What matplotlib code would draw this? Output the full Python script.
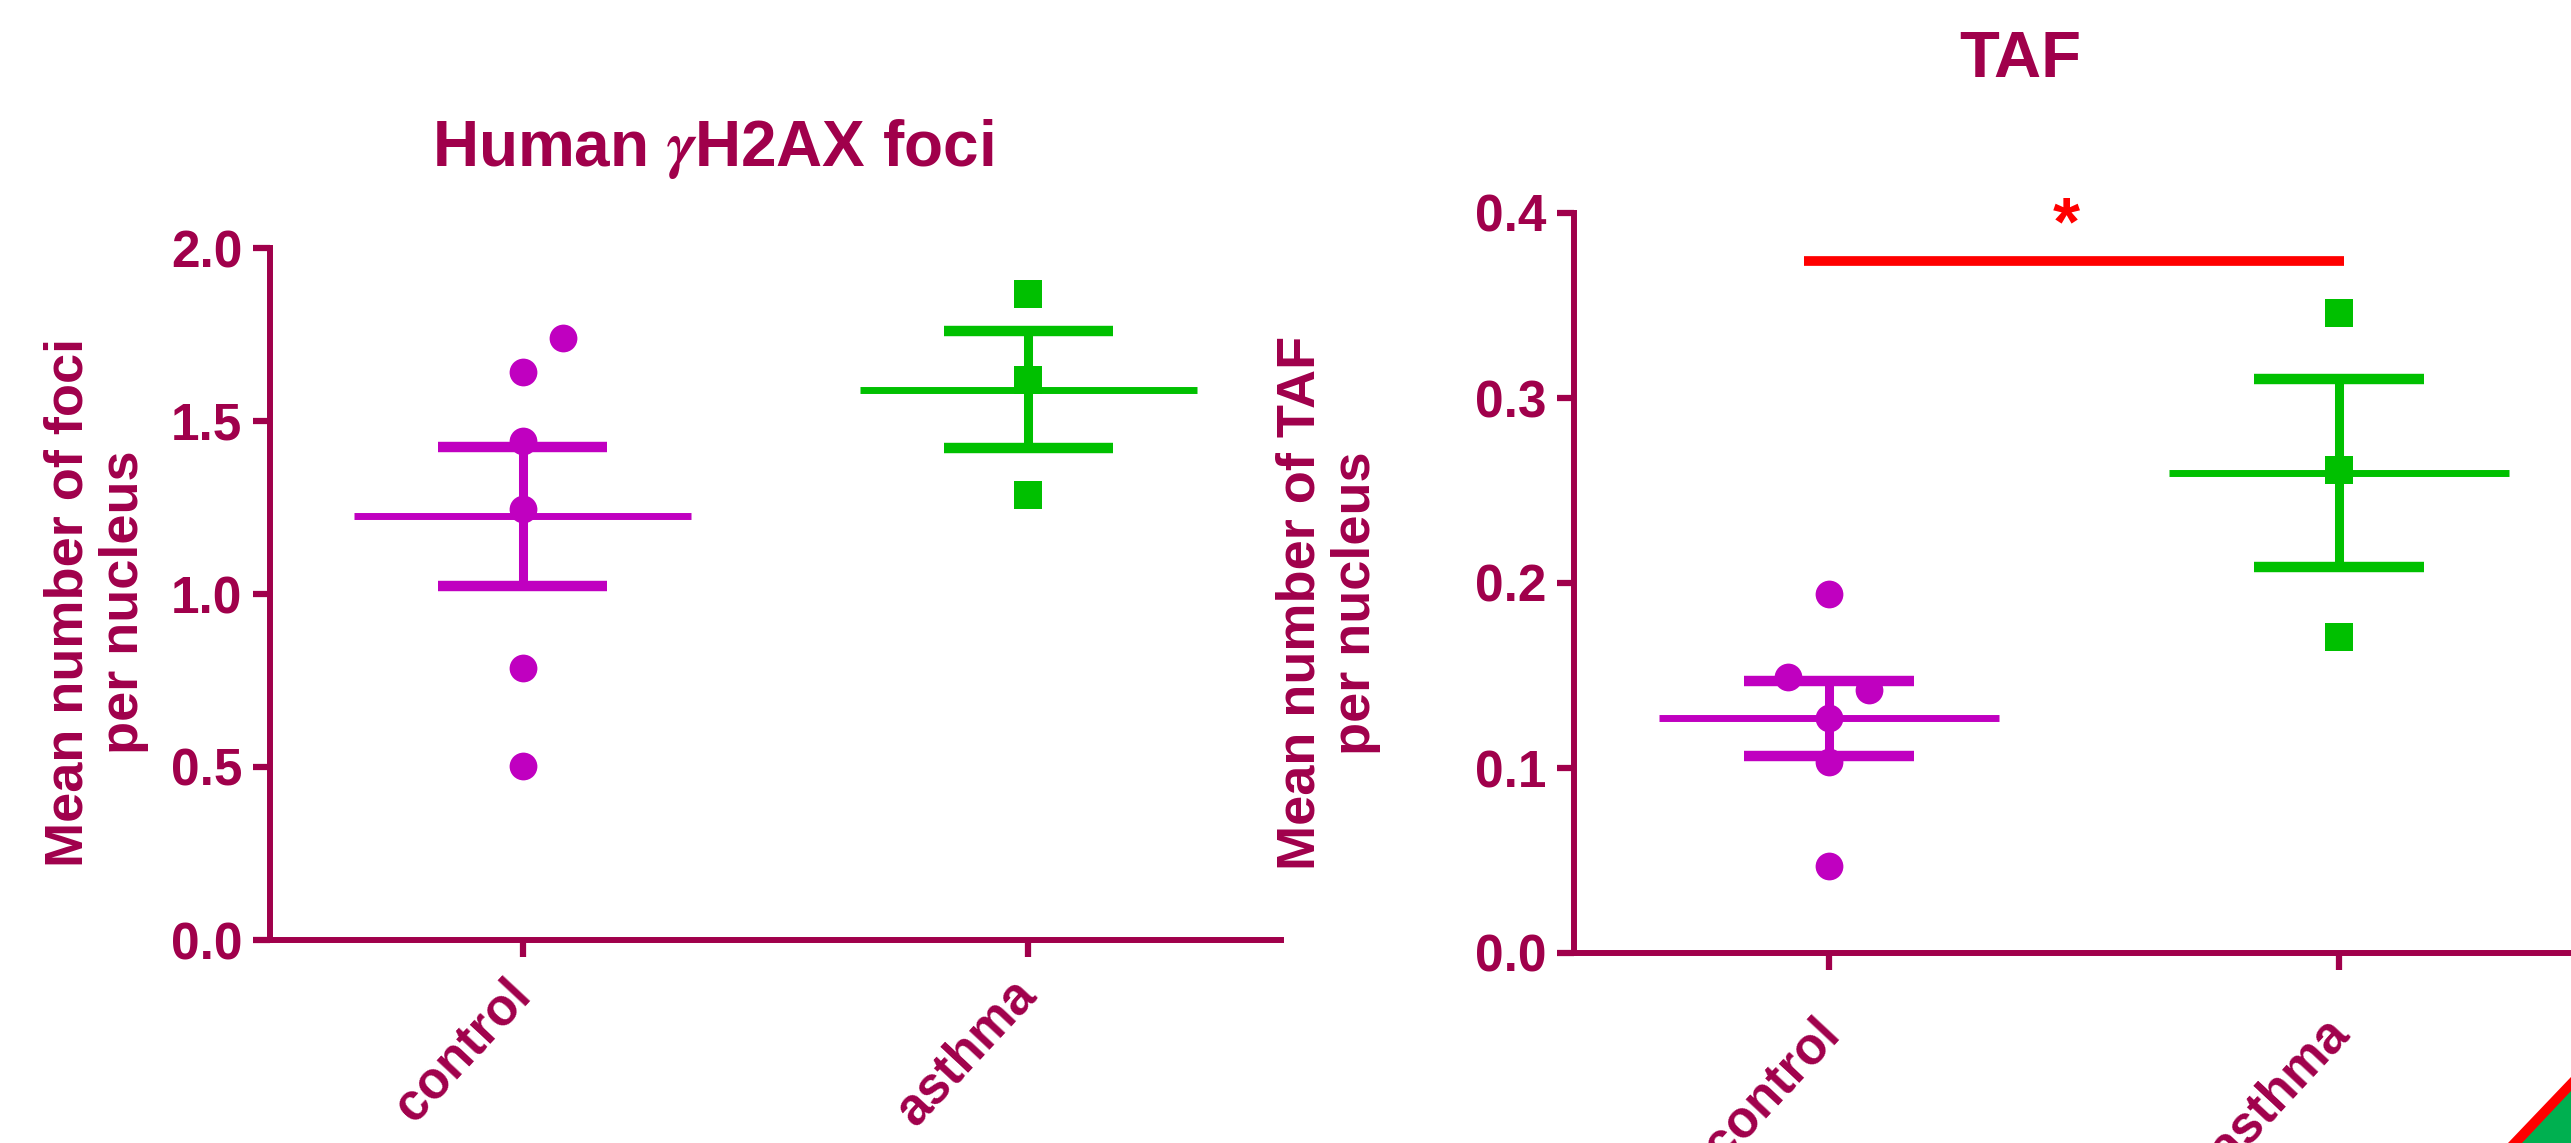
import matplotlib
matplotlib.use('Agg')
import matplotlib.pyplot as plt
from matplotlib.patches import Polygon
from matplotlib.transforms import ScaledTranslation
import numpy as np

# ---------------- data ----------------
categories = ['control', 'asthma']

foci_control = [1.739, 1.642, 1.441, 1.245, 0.786, 0.502]
foci_asthma = [1.867, 1.619, 1.286]
foci_means = [1.224, 1.591]
foci_sems = [0.200, 0.168]

taf_control = [0.194, 0.149, 0.142, 0.127, 0.103, 0.047]
taf_asthma = [0.346, 0.261, 0.171]
taf_means = [0.1268, 0.2593]
taf_sems = [0.0204, 0.0508]

# horizontal scatter offsets of overlapping points (layout only)
foci_control_jitter = [0.079, 0, 0, 0, 0, 0]
foci_asthma_jitter = [0, 0, 0]
taf_control_jitter = [0, -0.080, 0.079, 0, 0, 0]
taf_asthma_jitter = [0, 0, 0]

foci_yticks = [0.0, 0.5, 1.0, 1.5, 2.0]
taf_yticks = [0.0, 0.1, 0.2, 0.3, 0.4]
sig_y = 0.374
sig_x = [-0.05, 1.01]

# ---------------- style ----------------
W, H = 2571, 1143
DPI = 100
plt.rcParams['font.family'] = ['Liberation Sans', 'DejaVu Sans']
plt.rcParams['font.weight'] = 'bold'
plt.rcParams['mathtext.fontset'] = 'stix'
TXT = '#A0004B'
PURPLE = '#C000C0'
GREEN = '#00C000'
RED = '#FF0000'

fig = plt.figure(figsize=(W / DPI, H / DPI), dpi=DPI)
fig.patch.set_facecolor('white')

ax1 = fig.add_axes([270 / W, 1 - 940 / H, (1281 - 270) / W, (940 - 248) / H])
ax2 = fig.add_axes([1574 / W, 1 - 953 / H, 1020 / W, (953 - 213) / H])


def draw_group(ax, x, vals, jit, mean, sem, color, marker):
    xs = np.full(len(vals), float(x)) + np.array(jit)
    ax.vlines(x, mean - sem, mean + sem, color=color, lw=6.5, capstyle='butt', zorder=2)
    ax.hlines([mean - sem, mean + sem], x - 0.167, x + 0.167, color=color, lw=7.5,
              capstyle='butt', zorder=2)
    ax.hlines(mean, x - 0.333, x + 0.333, color=color, lw=5, capstyle='butt', zorder=2)
    ax.plot(xs, vals, ls='none', marker=marker, ms=20, mew=0, color=color, zorder=3,
            clip_on=False)


def style_axes(ax, yticks, ylim, fmt, dx, dy):
    ax.set_xlim(-0.5, 1.5)
    ax.set_ylim(*ylim)
    for s in ['top', 'right']:
        ax.spines[s].set_visible(False)
    for s in ['left', 'bottom']:
        ax.spines[s].set_linewidth(4.3)
        ax.spines[s].set_color(TXT)
    ax.set_yticks(yticks)
    ax.set_yticklabels([fmt.format(v) for v in yticks])
    ax.set_xticks(range(len(categories)))
    ax.set_xticklabels(categories, rotation=47, ha='right', va='top')
    ax.tick_params(axis='both', width=4.5, length=12, color=TXT, labelcolor=TXT,
                   labelsize=37)
    ax.tick_params(axis='y', pad=8)
    ax.tick_params(axis='x', pad=14)
    off = ScaledTranslation(dx / DPI, -dy / DPI, fig.dpi_scale_trans)
    for lab in ax.get_xticklabels():
        lab.set_transform(lab.get_transform() + off)
    ax.patch.set_alpha(0)


draw_group(ax1, 0, foci_control, foci_control_jitter, foci_means[0], foci_sems[0], PURPLE, 'o')
draw_group(ax1, 1, foci_asthma, foci_asthma_jitter, foci_means[1], foci_sems[1], GREEN, 's')
style_axes(ax1, foci_yticks, (0, 2.0), '{:.1f}', 18, -6)

draw_group(ax2, 0, taf_control, taf_control_jitter, taf_means[0], taf_sems[0], PURPLE, 'o')
draw_group(ax2, 1, taf_asthma, taf_asthma_jitter, taf_means[1], taf_sems[1], GREEN, 's')
style_axes(ax2, taf_yticks, (0, 0.4), '{:.1f}', 20, 20)

ax2.hlines(sig_y, sig_x[0], sig_x[1], color=RED, lw=7, capstyle='butt', zorder=2)
ax2.text(0.465, 0.3832, '*', color=RED, fontsize=50, ha='center', va='baseline')

# titles
fig.text(713 / W, 1 - 166 / H, 'Human $\\gamma$H2AX foci', color=TXT, fontsize=46,
         ha='center', va='baseline')
fig.text(2020 / W, 1 - 77 / H, 'TAF', color=TXT, fontsize=47, ha='center', va='baseline')

# y labels
fig.text(96 / W, 1 - 602 / H, 'Mean number of foci\nper nucleus', color=TXT, fontsize=39,
         rotation=90, ha='center', va='center', multialignment='center', linespacing=1.15)
fig.text(1328 / W, 1 - 603 / H, 'Mean number of TAF\nper nucleus', color=TXT, fontsize=39,
         rotation=90, ha='center', va='center', multialignment='center', linespacing=1.15)

# decorative corner
fig.patches.append(Polygon([(2508 / W, 0), (1, (1143 - 1077) / H), (1, 0)], closed=True,
                           transform=fig.transFigure, facecolor=RED, edgecolor='none'))
fig.patches.append(Polygon([(2522 / W, 0), (1, (1143 - 1091) / H), (1, 0)], closed=True,
                           transform=fig.transFigure, facecolor='#00B050', edgecolor='none'))

fig.savefig('out.png', dpi=DPI, facecolor='white')
